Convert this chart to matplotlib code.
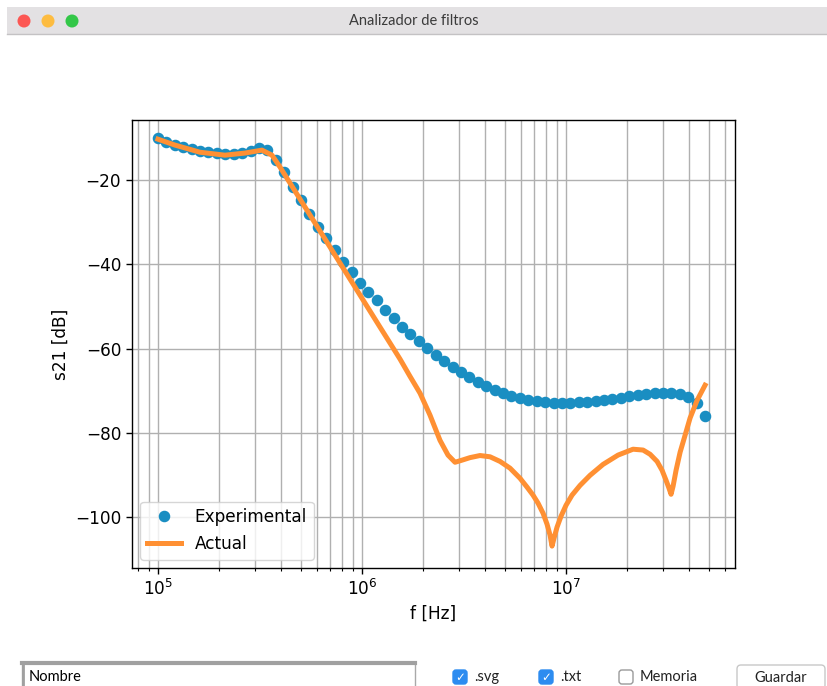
import numpy as np
import matplotlib
matplotlib.use("Agg")
import matplotlib.pyplot as plt
from matplotlib.patches import Rectangle, Circle, FancyBboxPatch

# experimental sweep (66 points, 100 kHz .. 48 MHz)
exp_f = np.geomspace(1e5, 4.8e7, 66)
exp_s21 = [-10.0, -11.0, -11.7, -12.2, -12.6, -13.1, -13.4, -13.6, -13.8, -13.8,
           -13.6, -13.1, -12.4, -12.9, -15.3, -18.1, -21.7, -24.8, -28.1, -31.2,
           -33.8, -36.6, -39.5, -41.9, -44.5, -46.6, -48.5, -50.9, -52.8, -54.9,
           -56.6, -58.2, -59.9, -61.6, -63.0, -64.4, -65.6, -66.8, -68.0, -68.9,
           -69.9, -70.6, -71.3, -71.8, -72.3, -72.5, -72.7, -73.0, -73.0, -73.0,
           -72.7, -72.7, -72.5, -72.3, -72.0, -71.8, -71.3, -71.1, -70.8, -70.6,
           -70.6, -70.6, -70.8, -71.5, -73.0, -76.0]

# simulated ("Actual") response
act_f = [1.000e5, 1.211e5, 1.607e5, 2.130e5, 2.670e5, 3.235e5, 3.622e5, 3.963e5, 4.967e5, 6.225e5,
         7.802e5, 9.777e5, 1.225e6, 1.372e6, 1.536e6, 1.719e6, 1.925e6, 2.154e6, 2.412e6, 2.640e6,
         2.858e6, 3.092e6, 3.383e6, 3.788e6, 4.242e6, 4.748e6, 5.315e6, 5.950e6, 6.440e6, 6.890e6,
         7.290e6, 7.717e6, 8.071e6, 8.349e6, 8.539e6, 8.734e6, 9.034e6, 9.452e6, 1.000e7, 1.070e7,
         1.171e7, 1.311e7, 1.519e7, 1.798e7, 2.130e7, 2.385e7, 2.581e7, 2.794e7, 2.955e7, 3.092e7,
         3.198e7, 3.271e7, 3.346e7, 3.461e7, 3.623e7, 3.831e7, 4.054e7, 4.387e7, 4.800e7]
act_s21 = [-10.3, -11.7, -13.4, -14.1, -13.6, -12.9, -14.1, -16.9, -24.5, -32.1,
           -39.7, -47.3, -54.9, -58.7, -62.5, -66.6, -70.6, -75.8, -81.8, -85.3,
           -87.0, -86.5, -85.9, -85.4, -85.7, -86.8, -88.4, -90.8, -92.9, -94.8,
           -96.7, -99.1, -101.7, -104.3, -106.9, -105.0, -102.4, -99.8, -97.2, -94.8,
           -92.5, -90.1, -87.5, -85.3, -83.9, -84.1, -85.1, -86.8, -88.9, -91.3,
           -93.2, -94.6, -92.7, -88.9, -84.6, -80.6, -76.5, -72.3, -68.7]

W, H = 827, 686
fig = plt.figure(figsize=(W / 100, H / 100), dpi=100)
fs = 12.2

# window chrome drawn in pixel coordinates
bg = fig.add_axes([0, 0, 1, 1], zorder=-1)
bg.set_xlim(0, W)
bg.set_ylim(H, 0)
bg.axis("off")
bg.add_patch(Rectangle((7, 7), W - 7, 27, facecolor="#e3e1e3", edgecolor="none"))
bg.plot([7, W], [34, 34], color="#c4c2c4", lw=1)
for cx, col in [(24, "#fc5753"), (48, "#fdbc40"), (72, "#33c748")]:
    bg.add_patch(Circle((cx, 21), 6.5, facecolor=col, edgecolor="none"))
bg.text(W / 2, 21, "Analizador de filtros", ha="center", va="center",
        fontsize=10.5, color="#3b3b3b", family="Lato")

# bottom controls
bg.add_patch(Rectangle((22, 662), 393, 26, facecolor="white", edgecolor="#a9a9a9", lw=1))
bg.plot([22, 415], [662.5, 662.5], color="#a0a0a0", lw=3)
bg.plot([22.5, 22.5], [662, 686], color="#a0a0a0", lw=2)
bg.text(29, 677, "Nombre", ha="left", va="center", fontsize=10.5, color="black", family="Lato")
for x0, label, checked in [(453, ".svg", True), (539, ".txt", True), (619, "Memoria", False)]:
    bg.add_patch(FancyBboxPatch((x0, 670), 14, 14, boxstyle="round,pad=0,rounding_size=3",
                                facecolor="#2d8cf0" if checked else "white",
                                edgecolor="#2d8cf0" if checked else "#9a9a9a", lw=1))
    if checked:
        bg.text(x0 + 7, 677.5, "\u2713", ha="center", va="center", fontsize=8.5,
                color="white", family="DejaVu Sans")
    bg.text(x0 + 21, 677, label, ha="left", va="center", fontsize=10.5, color="#222222", family="Lato")
bg.add_patch(FancyBboxPatch((737, 665), 88, 24, boxstyle="round,pad=0,rounding_size=4",
                            facecolor="white", edgecolor="#c8c8c8", lw=1))
bg.text(781, 678, "Guardar", ha="center", va="center", fontsize=10.5, color="#222222", family="Lato")

# main chart
ax = fig.add_axes([132 / W, 1 - 568 / H, (735 - 132) / W, (568 - 120) / H])
ax.semilogx(exp_f, exp_s21, "o", color="#1a8ec2", markersize=7.3, label="Experimental")
ax.semilogx(act_f, act_s21, "-", color="#ff9033", lw=3.6, label="Actual")
ax.grid(True, which="both", color="#b0b0b0", lw=1.0)
ax.set_xlabel("f [Hz]", fontsize=fs)
ax.set_ylabel("s21 [dB]", fontsize=fs)
ax.tick_params(labelsize=fs, width=1.0, length=4.2)
ax.tick_params(which="minor", width=0.8, length=2.4)
for sp in ax.spines.values():
    sp.set_linewidth(1.0)
ax.set_yticks([-20, -40, -60, -80, -100])
ax.set_xlim(10 ** 4.873, 10 ** 7.828)
ax.set_ylim(-112.1, -5.75)
ax.legend(loc="lower left", fontsize=fs)

fig.savefig("out.png", dpi=100)
